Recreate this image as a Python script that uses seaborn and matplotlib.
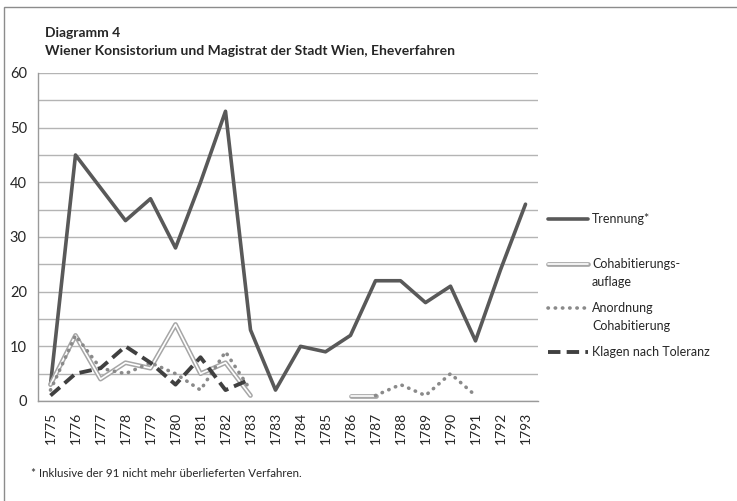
import numpy as np
import pandas as pd
import matplotlib
matplotlib.use("Agg")
import matplotlib.pyplot as plt
import matplotlib.patheffects as pe
from matplotlib.lines import Line2D
from matplotlib.patches import Rectangle
import seaborn as sns

# =========================
# DATA
# =========================
years = ["1775", "1776", "1777", "1778", "1779", "1780", "1781", "1782", "1783",
         "1783", "1784", "1785", "1786", "1787", "1788", "1789", "1790", "1791",
         "1792", "1793"]
nan = np.nan
trennung = [3, 45, 39, 33, 37, 28, 40, 53, 13, 2, 10, 9, 12, 22, 22, 18, 21, 11, 24, 36]
cohab_auflage = [3, 12, 4, 7, 6, 14, 5, 7, 1, nan, nan, nan, 1, 1, nan, nan, nan, nan, nan, nan]
anordnung = [2, 12, 6, 5, 7, 5, 2, 9, 2, nan, nan, nan, nan, 1, 3, 1, 5, 1, nan, nan]
klagen = [1, 5, 6, 10, 7, 3, 8, 2, 4, nan, nan, nan, nan, nan, nan, nan, nan, nan, nan, nan]

labels = [["Trennung*"], ["Cohabitierungs-", "auflage"], ["Anordnung", "Cohabitierung"],
          ["Klagen nach Toleranz"]]
series = [trennung, cohab_auflage, anordnung, klagen]

# =========================
# STYLE
# =========================
sns.set_style("white")
plt.rcParams["font.family"] = ["Lato", "DejaVu Sans"]

styles = [
    dict(color="#595959", linewidth=2.6, linestyle="-"),
    dict(color="white", linewidth=1.2, linestyle="-",
         path_effects=[pe.Stroke(linewidth=3.4, foreground="#a6a6a6"), pe.Normal()]),
    dict(color="#8a8a8a", linewidth=2.6, linestyle=(0, (0.1, 1.9)),
         dash_capstyle="round"),
    dict(color="#404040", linewidth=2.8, linestyle=(0, (3.2, 1.6))),
]

W, H = 737, 501
fig = plt.figure(figsize=(W / 100, H / 100), dpi=100)
ax = fig.add_axes([38 / W, 1 - 401 / H, 500 / W, 328 / H])

x = np.arange(len(years))
for vals, st in zip(series, styles):
    df = pd.DataFrame({"x": x, "value": vals})
    df["seg"] = df["value"].isna().cumsum()
    df = df.dropna()
    for seg, part in df.groupby("seg"):
        sns.lineplot(data=part, x="x", y="value", ax=ax, **st)

# axes
ax.set_xlim(-0.5, len(years) - 0.5)
ax.set_ylim(0, 60)
ax.set_yticks(range(0, 61, 10))
ax.set_yticks(range(5, 60, 10), minor=True)
ax.yaxis.grid(True, which="both", color="#b4b4b4", linewidth=1)
ax.set_axisbelow(True)
ax.set_xticks(x)
ax.set_xticklabels(years, rotation=90)
ax.set_xticks(np.arange(-0.5, len(years)), minor=True)
ax.tick_params(axis="x", which="major", length=0, pad=8, labelsize=10)
ax.tick_params(axis="x", which="minor", length=5, color="#9a9a9a", width=1)
ax.tick_params(axis="y", which="major", length=5, color="#9a9a9a", width=1,
               labelsize=10.5, pad=3)
ax.tick_params(axis="y", which="minor", length=0)
ax.set_xlabel("")
ax.set_ylabel("")
for s in ["top", "right"]:
    ax.spines[s].set_visible(False)
for s in ["left", "bottom"]:
    ax.spines[s].set_color("#9a9a9a")
    ax.spines[s].set_linewidth(1)

# legend (handles sit on the first text line, like the original)
leg_y = [219, 264, 308, 352]
for lines, st, y in zip(labels, styles, leg_y):
    fig.add_artist(Line2D([548 / W, 588 / W], [1 - y / H, 1 - y / H],
                          transform=fig.transFigure, **st))
    for i, txt in enumerate(lines):
        fig.text(592 / W, 1 - (y + i * 18) / H, txt, fontsize=9,
                 va="center", ha="left")

# titles
fig.text(45 / W, 1 - 37 / H, "Diagramm 4", fontsize=10, fontweight="bold")
fig.text(45 / W, 1 - 55 / H,
         "Wiener Konsistorium und Magistrat der Stadt Wien, Eheverfahren",
         fontsize=10, fontweight="bold")
fig.text(31 / W, 1 - 477 / H,
         "* Inklusive der 91 nicht mehr überlieferten Verfahren.", fontsize=8.3)

# outer frame
fig.patches.append(Rectangle((4 / W, -0.1), 1.2, 1.1 - 7 / H,
                             transform=fig.transFigure, fill=False,
                             edgecolor="#8c8c8c", linewidth=1))

fig.savefig("out.png", dpi=100)
